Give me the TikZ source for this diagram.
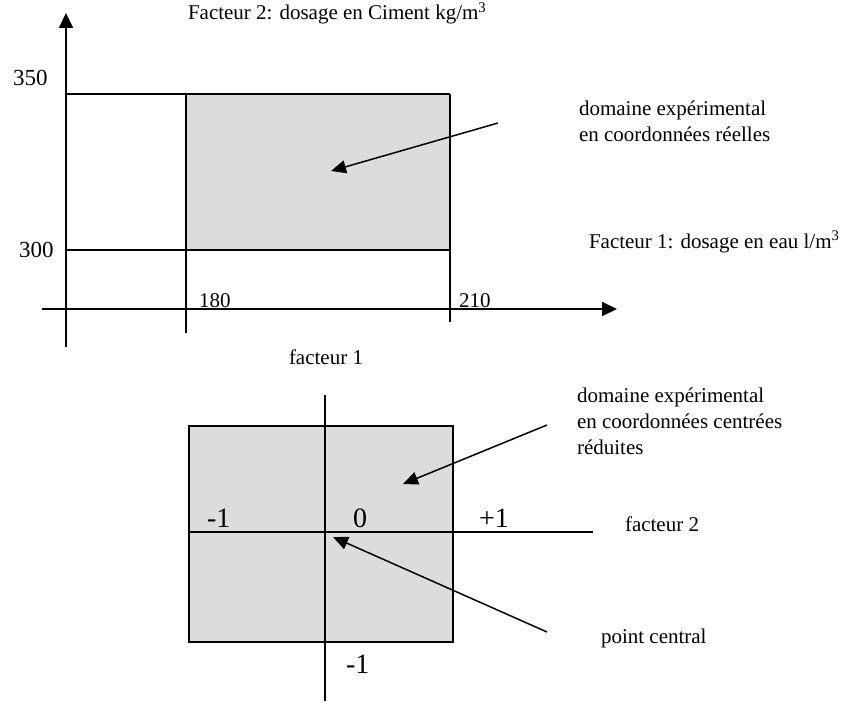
\documentclass[tikz,border=0pt]{standalone}
\usepackage{fontspec}
\setmainfont{Liberation Serif}
\usetikzlibrary{arrows.meta}
\definecolor{domgray}{RGB}{220,220,220}
\tikzset{
  lbl/.style={inner sep=0pt,anchor=base west,font=\fontsize{21}{26}\selectfont},
  biglbl/.style={lbl,font=\fontsize{23}{27}\selectfont},
  unitlbl/.style={lbl,font=\fontsize{28}{32}\selectfont},
  axis/.style={-{Triangle[length=15pt,width=14pt]}},
  pointer/.style={line width=1.5pt,-{Triangle[length=15pt,width=13pt]}},
}
\begin{document}
\begin{tikzpicture}[x=1pt,y=-1pt,line width=2pt]
\useasboundingbox (0,0) rectangle (845,701);
% real coordinates
\fill[domgray] (186,94) rectangle (450,250);
\draw[axis] (66,347) -- (66,13);
\draw[axis] (42,309) -- (617,309);
\draw (66,94) -- (450,94);
\draw (66,250) -- (450,250);
\draw (186,94) -- (186,333);
\draw (450,94) -- (450,322);
\node[lbl] (fac2) at (187,20) {Facteur 2: dosage en Ciment kg/m\textsuperscript{3}};
\node[biglbl] (v350) at (12,85) {350};
\node[biglbl] (v300) at (18,257) {300};
\node[lbl] (v180) at (198,307) {180};
\node[lbl] (v210) at (458,307) {210};
% base = last line
\node[lbl,align=left] (dreel) at (578,141) {domaine expérimental\\en coordonnées réelles};
\node[lbl] (fac1) at (588,248) {Facteur 1: dosage en eau l/m\textsuperscript{3}};
\coordinate (reelfrom) at (498,123);
\coordinate (reelto) at (331,171);
\draw[pointer] (reelfrom) -- (reelto);
% centred reduced coordinates
\begin{scope}[line width=1.5pt]
\fill[domgray] (189,426) rectangle (453,642);
\draw (189,426) rectangle (453,642);
\draw (325,395) -- (325,701);
\draw (189,532) -- (593,532);
\end{scope}
\node[lbl] (f1) at (288,364) {facteur 1};
\node[lbl] (f2) at (624,531) {facteur 2};
\node[unitlbl] (mleft) at (206,527) {-1};
\node[unitlbl] (zero) at (352,527) {0};
\node[unitlbl] (pright) at (478,527) {+1};
\node[unitlbl] (mbottom) at (345,673) {-1};
\node[lbl,align=left] (dcr) at (576,454) {domaine expérimental\\en coordonnées centrées\\réduites};
\node[lbl] (pc) at (600,643) {point central};
\coordinate (crfrom) at (547,425);
\coordinate (crto) at (403,484);
\coordinate (pcfrom) at (547,632);
\coordinate (pcto) at (333,537);
\draw[pointer] (crfrom) -- (crto);
\draw[pointer] (pcfrom) -- (pcto);
\end{tikzpicture}
\end{document}
